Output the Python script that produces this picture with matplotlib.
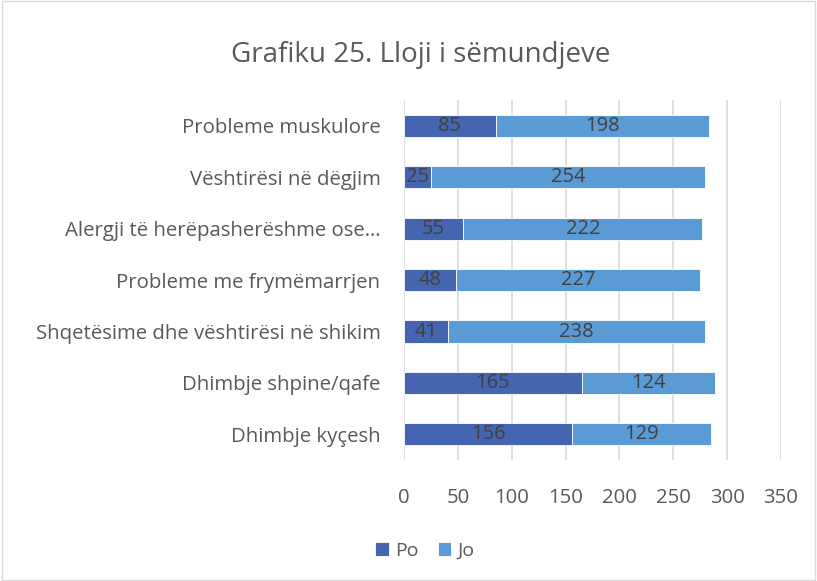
import matplotlib.pyplot as plt
import numpy as np

# Data
categories = ['Probleme muskulore', 'Vështirësi në dëgjim', 'Alergji të herëpasherëshme ose…',
              'Probleme me frymëmarrjen', 'Shqetësime dhe vështirësi në shikim',
              'Dhimbje shpine/qafe', 'Dhimbje kyçesh']
po = [85, 25, 55, 48, 41, 165, 156]
jo = [198, 254, 222, 227, 238, 124, 129]
xticks = [0, 50, 100, 150, 200, 250, 300, 350]

plt.rcParams['font.family'] = ['Open Sans', 'DejaVu Sans']
text_color = '#595959'

fig = plt.figure(figsize=(8.17, 5.81), dpi=100)
ax = fig.add_axes([0.4945, 0.208, 0.4615, 0.62])

y = np.arange(len(categories))[::-1]
c_po = '#4565B0'
c_jo = '#5B9BD5'
bars_po = ax.barh(y, po, height=0.43, color=c_po, edgecolor='white', linewidth=0.6, label='Po', zorder=3)
bars_jo = ax.barh(y, jo, left=po, height=0.43, color=c_jo, edgecolor='white', linewidth=0.6, label='Jo', zorder=3)

# value labels centred in each segment
for bars, vals, lefts in [(bars_po, po, [0] * len(po)), (bars_jo, jo, po)]:
    for b, v, l in zip(bars, vals, lefts):
        ax.text(l + v / 2, b.get_y() + b.get_height() / 2, str(v), ha='center', va='center',
                fontsize=14.5, color='#404040', zorder=4)

ax.set_xlim(0, 350)
ax.set_ylim(-0.5, 6.5)
ax.set_xticks(xticks)
ax.set_yticks(y)
ax.set_yticklabels(categories)
ax.tick_params(axis='both', length=0, labelsize=14.7, colors=text_color)
ax.tick_params(axis='y', pad=17)
ax.tick_params(axis='x', pad=20)
ax.grid(axis='x', color='#d9d9d9', linewidth=1.2, zorder=0)
for s in ax.spines.values():
    s.set_visible(False)

fig.text(0.515, 0.905, 'Grafiku 25. Lloji i sëmundjeve', ha='center', va='center',
         fontsize=20, color=text_color)

leg = fig.legend(handles=[bars_po, bars_jo], labels=['Po', 'Jo'], loc='center',
                 bbox_to_anchor=(0.52, 0.052), ncol=2, frameon=False, fontsize=14,
                 handlelength=0.7, handleheight=0.7, handletextpad=0.3, columnspacing=1.0,
                 labelcolor=text_color)

# light border round the whole chart
fig.patches.append(plt.Rectangle((0.002, 0.002), 0.996, 0.996, transform=fig.transFigure,
                                 fill=False, edgecolor='#d9d9d9', linewidth=1))

fig.savefig('out.png', dpi=100)
